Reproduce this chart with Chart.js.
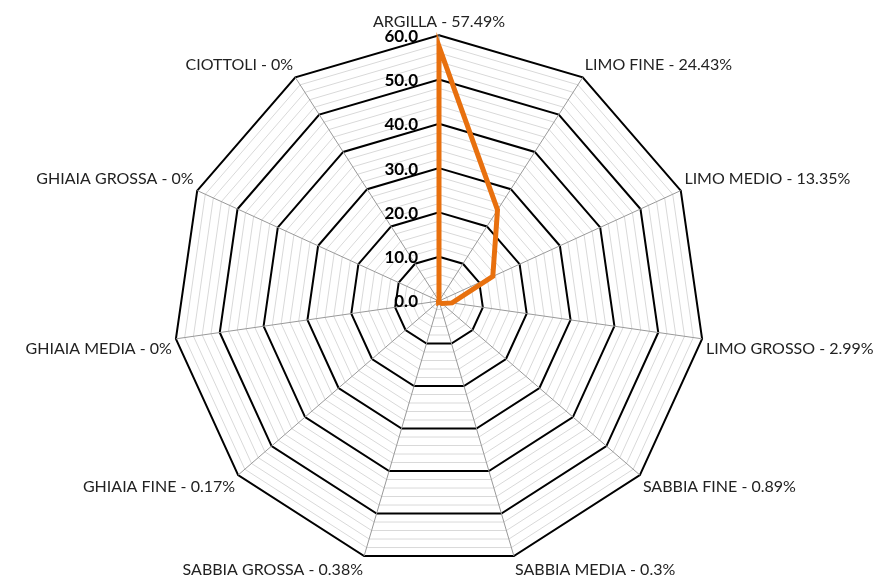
<!DOCTYPE html>
<html>
<head>
<meta charset="utf-8">
<script src="https://cdn.jsdelivr.net/npm/chart.js@4"></script>
<style>
  body { margin: 0; background: #fff; }
  #wrap { width: 888px; height: 585px; }
</style>
</head>
<body>
<div id="wrap"><canvas id="myChart"></canvas></div>
<script>
const categories = ['ARGILLA', 'LIMO FINE', 'LIMO MEDIO', 'LIMO GROSSO', 'SABBIA FINE', 'SABBIA MEDIA',
  'SABBIA GROSSA', 'GHIAIA FINE', 'GHIAIA MEDIA', 'GHIAIA GROSSA', 'CIOTTOLI']
const values = [57.49, 24.43, 13.35, 2.99, 0.89, 0.3, 0.38, 0.17, 0, 0, 0]
const tickLabels = [0, 10, 20, 30, 40, 50, 60]

const labels = categories.map((c, i) => `${c} - ${values[i]}%`)

// draw the bold value labels left of the vertical axis, like the excel original
const tickLabelPlugin = {
  id: 'tickLabels',
  afterDraw(chart) {
    const scale = chart.scales.r
    const ctx = chart.ctx
    ctx.save()
    ctx.font = 'bold 17px Lato'
    ctx.fillStyle = '#000'
    ctx.textAlign = 'right'
    ctx.textBaseline = 'middle'
    tickLabels.forEach((t) => {
      const d = scale.getDistanceFromCenterForValue(t)
      ctx.fillText(t.toFixed(1), scale.xCenter - 21, scale.yCenter - d + 1)
    })
    ctx.restore()
  }
}

const ctx = document.getElementById('myChart').getContext('2d')
const myChart = new Chart(ctx, {
  type: 'radar',
  data: {
    labels,
    datasets: [{
      data: values,
      borderColor: '#e8700e',
      backgroundColor: 'transparent',
      borderWidth: 5,
      pointRadius: 0,
      tension: 0
    }]
  },
  options: {
    responsive: true,
    maintainAspectRatio: false,
    animation: false,
    layout: { padding: { top: 6, bottom: 0, left: 8, right: 0 } },
    plugins: { legend: { display: false }, tooltip: { enabled: false } },
    scales: {
      r: {
        min: 0,
        max: 60,
        ticks: { stepSize: 2, display: false },
        grid: {
          color: (c) => (c.tick && c.tick.value % 10 === 0) ? '#000' : '#d9d9d9',
          lineWidth: (c) => (c.tick && c.tick.value % 10 === 0) ? 2 : 1
        },
        angleLines: { color: '#999', lineWidth: 1 },
        pointLabels: {
          font: { family: 'Lato', size: 16 },
          color: '#222',
          padding: 4
        }
      }
    }
  },
  plugins: [tickLabelPlugin]
})
</script>
</body>
</html>
